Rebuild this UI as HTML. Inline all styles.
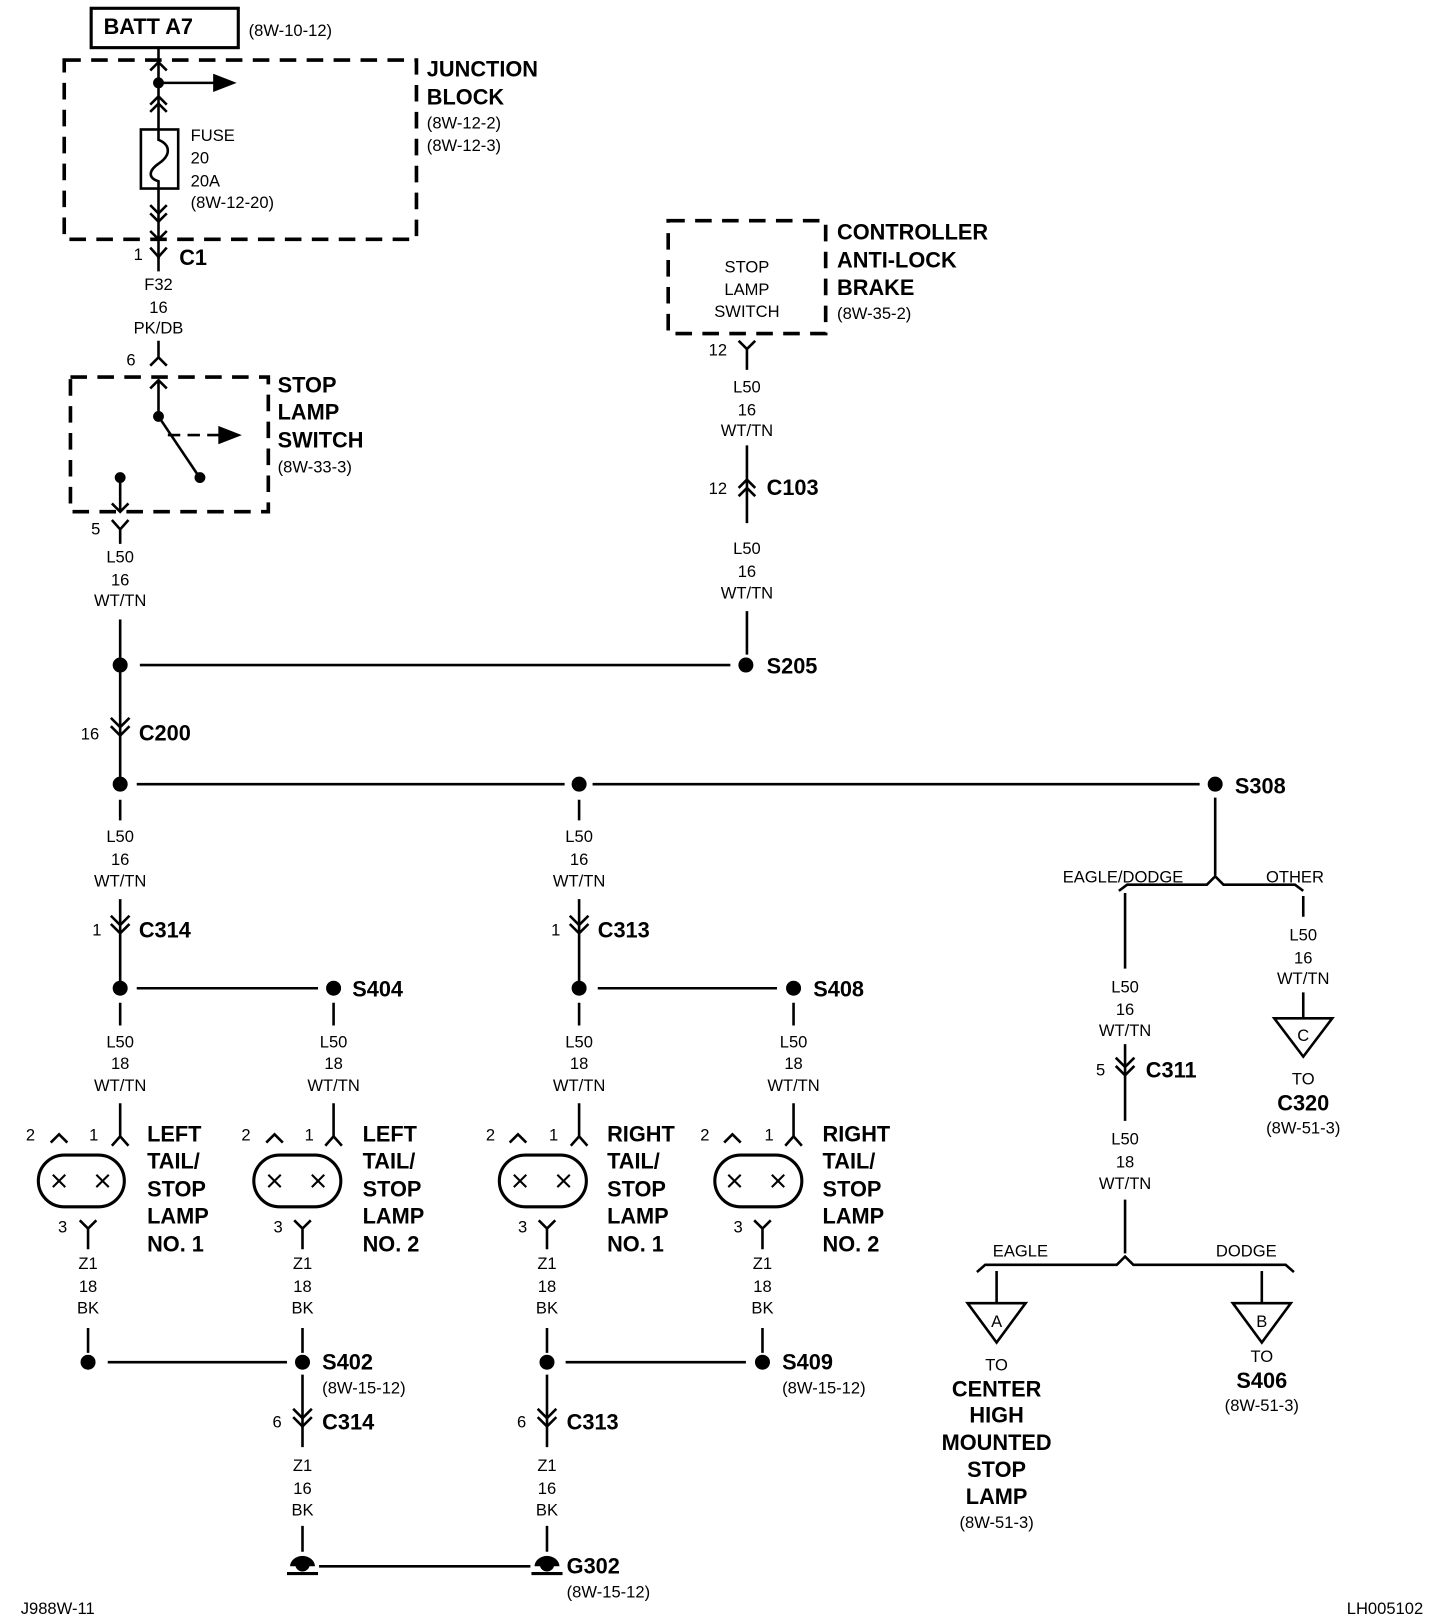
<!DOCTYPE html>
<html><head><meta charset="utf-8">
<style>
html,body{margin:0;padding:0;background:#fff;}
svg{display:block}
text{font-family:"Liberation Sans",Arial,sans-serif;fill:#000}
.r{font-size:16px}
.b{font-size:21px;font-weight:bold}
.c{text-anchor:middle}
</style></head><body>
<svg width="1440" height="1616" viewBox="0 0 1390 1560" preserveAspectRatio="none" xmlns="http://www.w3.org/2000/svg">
<g stroke="#000" stroke-width="2.5" fill="none">
<rect x="88" y="8" width="142" height="38" stroke-width="3"/>
<rect x="62" y="58" width="340" height="173" stroke-width="3.5" stroke-dasharray="16 10"/>
<path d="M153 46 V250"/>
<path d="M145 68 L153 60 L161 68 M145 101 L153 93 L161 101 M145 108 L153 100 L161 108"/>
<path d="M153 80 H210"/>
<path d="M207 73 L225 80 L207 87 Z" fill="#000"/>
<circle cx="153" cy="80" r="4" fill="#000"/>
<rect x="136" y="125" width="36" height="57" fill="#fff"/>
<path d="M153 125 V135 C165 140 165 150 153 158 C143 165 143 172 153 175 V182"/>
<path d="M145 198 L153 206 L161 198 M145 206 L153 214 L161 206 M145 223 L153 231 L161 223"/>
<path d="M145 239 L153 248 L161 239 M153 248 V262"/>
<path d="M145 353 L153 345 L161 353 M153 329 V345"/>
<rect x="68" y="364" width="191" height="130" stroke-width="3.5" stroke-dasharray="16 10"/>
<path d="M153 367 V402 M145 375 L153 367 L161 375"/>
<circle cx="153" cy="402" r="4" fill="#000"/>
<path d="M153 402 L192 460"/>
<circle cx="193" cy="461" r="4" fill="#000"/>
<path d="M162 420 H212" stroke-dasharray="12 7"/>
<path d="M212 413 L230 420 L212 427 Z" fill="#000"/>
<circle cx="116" cy="461" r="4" fill="#000"/>
<path d="M116 461 V494 M108 486 L116 494 L124 486"/>
<path d="M108 502 L116 511 L124 502 M116 511 V525"/>
<path d="M116 598 V636"/>
<circle cx="116" cy="642" r="6" fill="#000"/>
<path d="M135 642 H705"/>
<circle cx="720" cy="642" r="6" fill="#000"/>
<rect x="645" y="213" width="152" height="109" stroke-width="3.5" stroke-dasharray="16 10"/>
<path d="M713 329 L721 337 L729 329 M721 337 V357"/>
<path d="M721 430 V505 M721 590 V632"/>
<path d="M713 471 L721 463 L729 471 M713 479 L721 471 L729 479"/>
<!-- C200 -->
<path d="M116 648 V752"/>
<path d="M107 693 L116 702 L125 693 M107 701 L116 710 L125 701"/>
<circle cx="116" cy="757" r="6" fill="#000"/>
<path d="M132 757 H545 M572 757 H1158"/>
<circle cx="559" cy="757" r="6" fill="#000"/>
<circle cx="1173" cy="757" r="6" fill="#000"/>
<path d="M116 772 V792 M116 868 V950"/>
<path d="M107 884 L116 893 L125 884 M107 892 L116 901 L125 892"/>
<circle cx="116" cy="954" r="6" fill="#000"/>
<path d="M132 954 H307"/>
<circle cx="322" cy="954" r="6" fill="#000"/>
<path d="M116 968 V990 M116 1065 V1097 M322 968 V990 M322 1065 V1097"/>
<path d="M559 772 V792 M559 868 V950"/>
<path d="M550 884 L559 893 L568 884 M550 892 L559 901 L568 892"/>
<circle cx="559" cy="954" r="6" fill="#000"/>
<path d="M577 954 H750"/>
<circle cx="766" cy="954" r="6" fill="#000"/>
<path d="M559 968 V990 M559 1065 V1097 M766 968 V990 M766 1065 V1097"/>
<path d="M108 1106 L116 1097 L124 1106 M314 1106 L322 1097 L330 1106 M551 1106 L559 1097 L567 1106 M758 1106 L766 1097 L774 1106"/>
<path d="M49 1103 L57 1095 L65 1103 M257 1103 L265 1095 L273 1103 M492 1103 L500 1095 L508 1103 M699 1103 L707 1095 L715 1103"/>
<rect x="37" y="1115" width="83" height="50" rx="25" stroke-width="3"/>
<rect x="245" y="1115" width="84" height="50" rx="25" stroke-width="3"/>
<rect x="482" y="1115" width="84" height="50" rx="25" stroke-width="3"/>
<rect x="690" y="1115" width="84" height="50" rx="25" stroke-width="3"/>
<g stroke-width="2">
<path d="M51 1134 L63 1146 M63 1134 L51 1146 M93 1134 L105 1146 M105 1134 L93 1146"/>
<path d="M259 1134 L271 1146 M271 1134 L259 1146 M301 1134 L313 1146 M313 1134 L301 1146"/>
<path d="M496 1134 L508 1146 M508 1134 L496 1146 M538 1134 L550 1146 M550 1134 L538 1146"/>
<path d="M703 1134 L715 1146 M715 1134 L703 1146 M745 1134 L757 1146 M757 1134 L745 1146"/>
</g>
<path d="M77 1178 L85 1186 L93 1178 M85 1186 V1206 M85 1282 V1306"/>
<path d="M284 1178 L292 1186 L300 1178 M292 1186 V1206 M292 1282 V1306"/>
<path d="M520 1178 L528 1186 L536 1178 M528 1186 V1206 M528 1282 V1306"/>
<path d="M728 1178 L736 1186 L744 1178 M736 1186 V1206 M736 1282 V1306"/>
<circle cx="85" cy="1315" r="6" fill="#000"/>
<circle cx="292" cy="1315" r="6" fill="#000"/>
<circle cx="528" cy="1315" r="6" fill="#000"/>
<circle cx="736" cy="1315" r="6" fill="#000"/>
<path d="M104 1315 H277 M546 1315 H720"/>
<path d="M292 1327 V1397 M528 1327 V1397"/>
<path d="M283 1360 L292 1369 L301 1360 M283 1368 L292 1377 L301 1368"/>
<path d="M519 1360 L528 1369 L537 1360 M519 1368 L528 1377 L537 1368"/>
<path d="M292 1473 V1498 M528 1473 V1498"/>
<path d="M308 1512 H512"/>
<path d="M277 1519 H307 M513 1519 H543" stroke-width="3"/>
<path d="M1173 770 V845"/>
<path d="M1080 860 L1088 854 H1165 L1173 846 L1181 854 H1250 L1258 860"/>
<path d="M1086 862 V935 M1086 1008 V1082 M1086 1158 V1210"/>
<path d="M1077 1021 L1086 1030 L1095 1021 M1077 1029 L1086 1038 L1095 1029"/>
<path d="M1258 865 V885 M1258 958 V983"/>
<path d="M1230 983 H1286 L1258 1020 Z"/>
<path d="M943 1228 L951 1221 H1078 L1086 1213 L1094 1221 H1241 L1249 1228"/>
<path d="M962 1227 V1258 M1218 1227 V1258"/>
<path d="M934 1258 H990 L962 1296 Z"/>
<path d="M1190 1258 H1246 L1218 1296 Z"/>
</g>
<g fill="#000" stroke="none">
<path d="M280 1512 a12 10 0 0 1 24 0 Z"/>
<path d="M516 1512 a12 10 0 0 1 24 0 Z"/>
</g>
<circle cx="292" cy="1510" r="7" fill="#000"/>
<circle cx="528" cy="1510" r="7" fill="#000"/>

<text x="100" y="33" class="b">BATT A7</text>
<text x="240" y="35" class="r">(8W-10-12)</text>
<text x="412" y="74" class="b">JUNCTION</text>
<text x="412" y="101" class="b">BLOCK</text>
<text x="412" y="124" class="r">(8W-12-2)</text>
<text x="412" y="146" class="r">(8W-12-3)</text>
<text x="184" y="136" class="r">FUSE</text>
<text x="184" y="158" class="r">20</text>
<text x="184" y="180" class="r">20A</text>
<text x="184" y="201" class="r">(8W-12-20)</text>
<text x="129" y="251" class="r">1</text>
<text x="173" y="256" class="b">C1</text>
<text x="153" y="280" class="r c">F32</text>
<text x="153" y="302" class="r c">16</text>
<text x="153" y="322" class="r c">PK/DB</text>
<text x="122" y="353" class="r">6</text>
<text x="268" y="379" class="b">STOP</text>
<text x="268" y="405" class="b">LAMP</text>
<text x="268" y="432" class="b">SWITCH</text>
<text x="268" y="456" class="r">(8W-33-3)</text>
<text x="88" y="516" class="r">5</text>
<text x="116" y="543" class="r c">L50</text>
<text x="116" y="565" class="r c">16</text>
<text x="116" y="585" class="r c">WT/TN</text>
<text x="740" y="650" class="b">S205</text>

<text x="721" y="263" class="r c">STOP</text>
<text x="721" y="285" class="r c">LAMP</text>
<text x="721" y="306" class="r c">SWITCH</text>
<text x="808" y="231" class="b">CONTROLLER</text>
<text x="808" y="258" class="b">ANTI-LOCK</text>
<text x="808" y="285" class="b">BRAKE</text>
<text x="808" y="308" class="r">(8W-35-2)</text>
<text x="684" y="343" class="r">12</text>
<text x="721" y="379" class="r c">L50</text>
<text x="721" y="401" class="r c">16</text>
<text x="721" y="421" class="r c">WT/TN</text>
<text x="684" y="477" class="r">12</text>
<text x="740" y="478" class="b">C103</text>
<text x="721" y="535" class="r c">L50</text>
<text x="721" y="557" class="r c">16</text>
<text x="721" y="578" class="r c">WT/TN</text>

<text x="78" y="714" class="r">16</text>
<text x="134" y="715" class="b">C200</text>
<text x="1192" y="766" class="b">S308</text>

<text x="116" y="813" class="r c">L50</text>
<text x="116" y="835" class="r c">16</text>
<text x="116" y="856" class="r c">WT/TN</text>
<text x="89" y="903" class="r">1</text>
<text x="134" y="905" class="b">C314</text>
<text x="340" y="962" class="b">S404</text>
<text x="116" y="1011" class="r c">L50</text>
<text x="116" y="1032" class="r c">18</text>
<text x="116" y="1053" class="r c">WT/TN</text>
<text x="322" y="1011" class="r c">L50</text>
<text x="322" y="1032" class="r c">18</text>
<text x="322" y="1053" class="r c">WT/TN</text>

<text x="559" y="813" class="r c">L50</text>
<text x="559" y="835" class="r c">16</text>
<text x="559" y="856" class="r c">WT/TN</text>
<text x="532" y="903" class="r">1</text>
<text x="577" y="905" class="b">C313</text>
<text x="785" y="962" class="b">S408</text>
<text x="559" y="1011" class="r c">L50</text>
<text x="559" y="1032" class="r c">18</text>
<text x="559" y="1053" class="r c">WT/TN</text>
<text x="766" y="1011" class="r c">L50</text>
<text x="766" y="1032" class="r c">18</text>
<text x="766" y="1053" class="r c">WT/TN</text>

<text x="25" y="1101" class="r">2</text><text x="86" y="1101" class="r">1</text>
<text x="233" y="1101" class="r">2</text><text x="294" y="1101" class="r">1</text>
<text x="469" y="1101" class="r">2</text><text x="530" y="1101" class="r">1</text>
<text x="676" y="1101" class="r">2</text><text x="738" y="1101" class="r">1</text>

<text x="142" y="1102" class="b">LEFT</text><text x="142" y="1128" class="b">TAIL/</text><text x="142" y="1155" class="b">STOP</text><text x="142" y="1181" class="b">LAMP</text><text x="142" y="1208" class="b">NO. 1</text>
<text x="350" y="1102" class="b">LEFT</text><text x="350" y="1128" class="b">TAIL/</text><text x="350" y="1155" class="b">STOP</text><text x="350" y="1181" class="b">LAMP</text><text x="350" y="1208" class="b">NO. 2</text>
<text x="586" y="1102" class="b">RIGHT</text><text x="586" y="1128" class="b">TAIL/</text><text x="586" y="1155" class="b">STOP</text><text x="586" y="1181" class="b">LAMP</text><text x="586" y="1208" class="b">NO. 1</text>
<text x="794" y="1102" class="b">RIGHT</text><text x="794" y="1128" class="b">TAIL/</text><text x="794" y="1155" class="b">STOP</text><text x="794" y="1181" class="b">LAMP</text><text x="794" y="1208" class="b">NO. 2</text>

<text x="56" y="1190" class="r">3</text><text x="264" y="1190" class="r">3</text><text x="500" y="1190" class="r">3</text><text x="708" y="1190" class="r">3</text>
<text x="85" y="1225" class="r c">Z1</text><text x="85" y="1247" class="r c">18</text><text x="85" y="1268" class="r c">BK</text>
<text x="292" y="1225" class="r c">Z1</text><text x="292" y="1247" class="r c">18</text><text x="292" y="1268" class="r c">BK</text>
<text x="528" y="1225" class="r c">Z1</text><text x="528" y="1247" class="r c">18</text><text x="528" y="1268" class="r c">BK</text>
<text x="736" y="1225" class="r c">Z1</text><text x="736" y="1247" class="r c">18</text><text x="736" y="1268" class="r c">BK</text>

<text x="311" y="1322" class="b">S402</text>
<text x="311" y="1345" class="r">(8W-15-12)</text>
<text x="755" y="1322" class="b">S409</text>
<text x="755" y="1345" class="r">(8W-15-12)</text>
<text x="263" y="1378" class="r">6</text>
<text x="311" y="1380" class="b">C314</text>
<text x="499" y="1378" class="r">6</text>
<text x="547" y="1380" class="b">C313</text>
<text x="292" y="1420" class="r c">Z1</text><text x="292" y="1442" class="r c">16</text><text x="292" y="1463" class="r c">BK</text>
<text x="528" y="1420" class="r c">Z1</text><text x="528" y="1442" class="r c">16</text><text x="528" y="1463" class="r c">BK</text>
<text x="547" y="1519" class="b">G302</text>
<text x="547" y="1542" class="r">(8W-15-12)</text>

<text x="1084" y="852" class="r c">EAGLE/DODGE</text>
<text x="1250" y="852" class="r c">OTHER</text>
<text x="1086" y="958" class="r c">L50</text><text x="1086" y="980" class="r c">16</text><text x="1086" y="1000" class="r c">WT/TN</text>
<text x="1058" y="1038" class="r">5</text>
<text x="1106" y="1040" class="b">C311</text>
<text x="1086" y="1105" class="r c">L50</text><text x="1086" y="1127" class="r c">18</text><text x="1086" y="1148" class="r c">WT/TN</text>
<text x="1258" y="908" class="r c">L50</text><text x="1258" y="930" class="r c">16</text><text x="1258" y="950" class="r c">WT/TN</text>
<text x="1258" y="1005" class="r c">C</text>
<text x="1258" y="1047" class="r c">TO</text>
<text x="1258" y="1072" class="b c">C320</text>
<text x="1258" y="1094" class="r c">(8W-51-3)</text>
<text x="985" y="1213" class="r c">EAGLE</text>
<text x="1203" y="1213" class="r c">DODGE</text>
<text x="962" y="1281" class="r c">A</text>
<text x="1218" y="1281" class="r c">B</text>
<text x="962" y="1323" class="r c">TO</text>
<text x="962" y="1348" class="b c">CENTER</text>
<text x="962" y="1373" class="b c">HIGH</text>
<text x="962" y="1400" class="b c">MOUNTED</text>
<text x="962" y="1426" class="b c">STOP</text>
<text x="962" y="1452" class="b c">LAMP</text>
<text x="962" y="1475" class="r c">(8W-51-3)</text>
<text x="1218" y="1315" class="r c">TO</text>
<text x="1218" y="1340" class="b c">S406</text>
<text x="1218" y="1362" class="r c">(8W-51-3)</text>
<text x="20" y="1558" class="r">J988W-11</text>
<text x="1300" y="1558" class="r">LH005102</text>
</svg>
</body></html>
